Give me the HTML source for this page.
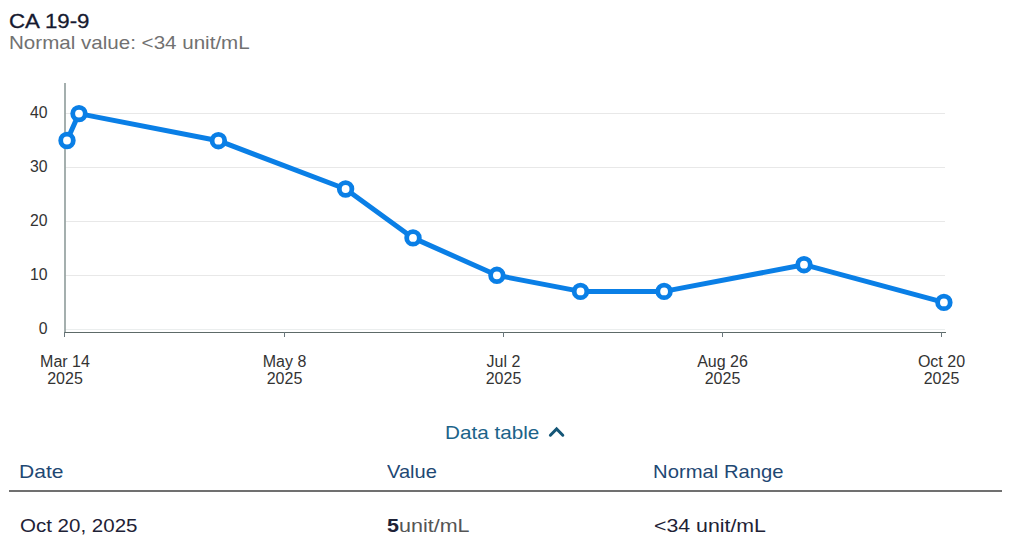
<!DOCTYPE html>
<html><head><meta charset="utf-8">
<style>
html,body{margin:0;padding:0;background:#fff;width:1018px;height:559px;overflow:hidden;}
body{position:relative;font-family:"Liberation Sans",sans-serif;-webkit-font-smoothing:antialiased;}
.t{position:absolute;white-space:nowrap;line-height:1;transform-origin:0 0;}
#title{left:9px;top:9.5px;font-size:21px;color:#161a30;transform:scaleX(1.06);-webkit-text-stroke:0.3px #161a30;}
#sub{left:9px;top:35px;font-size:17.7px;color:#717171;transform:scaleX(1.163);}
.yl{position:absolute;font-size:15.8px;color:#333;line-height:1;text-align:right;width:40px;left:7.5px;}
.xl{position:absolute;font-size:16px;color:#333;line-height:17px;text-align:center;width:100px;top:352.5px;}
#dt{left:445px;top:425px;font-size:17.7px;color:#1b6389;transform:scaleX(1.17);}
.th{top:464px;font-size:17.7px;color:#1e4873;}
.td{top:518px;font-size:17.7px;color:#1e2236;}
#rule{position:absolute;left:9px;top:490px;width:993px;height:2px;background:#707070;}
svg{position:absolute;left:0;top:0;}
</style></head><body>
<div class="t" id="title">CA 19-9</div>
<div class="t" id="sub">Normal value: &lt;34 unit/mL</div>

<svg width="1018" height="400" viewBox="0 0 1018 400">
  <g stroke="#e8e8e8" stroke-width="1">
    <line x1="65" y1="113.5" x2="945" y2="113.5"/>
    <line x1="65" y1="167.5" x2="945" y2="167.5"/>
    <line x1="65" y1="221.5" x2="945" y2="221.5"/>
    <line x1="65" y1="275.5" x2="945" y2="275.5"/>
    <line x1="65" y1="329.5" x2="945" y2="329.5" stroke="#ebeeee"/>
  </g>
  <line x1="65" y1="83" x2="65" y2="332" stroke="#95a1a0" stroke-width="1.7"/>
  <line x1="64" y1="332.5" x2="946" y2="332.5" stroke="#5d6a68" stroke-width="1"/>
  <g stroke="#6a777c" stroke-width="1">
    <line x1="64.5" y1="332" x2="64.5" y2="337"/>
    <line x1="284.5" y1="332" x2="284.5" y2="337"/>
    <line x1="503.5" y1="332" x2="503.5" y2="337"/>
    <line x1="722.5" y1="332" x2="722.5" y2="337"/>
    <line x1="941.5" y1="332" x2="941.5" y2="337"/>
  </g>
  <polyline fill="none" stroke="#0a7fe6" stroke-width="5" stroke-linejoin="round"
    points="67,140.5 79,113.6 218.4,140.7 345.6,189.0 413,237.9 496.9,275.3 580.5,291.4 664.1,291.4 804,264.7 943.9,302.4"/>
  <g fill="#fff" stroke="#0a7fe6" stroke-width="4.8">
    <circle cx="67" cy="140.5" r="6.3"/>
    <circle cx="79" cy="113.6" r="6.3"/>
    <circle cx="218.4" cy="140.7" r="6.3"/>
    <circle cx="345.6" cy="189.0" r="6.3"/>
    <circle cx="413" cy="237.9" r="6.3"/>
    <circle cx="496.9" cy="275.3" r="6.3"/>
    <circle cx="580.5" cy="291.4" r="6.3"/>
    <circle cx="664.1" cy="291.4" r="6.3"/>
    <circle cx="804" cy="264.7" r="6.3"/>
    <circle cx="943.9" cy="302.4" r="6.3"/>
  </g>
</svg>

<div class="yl" style="top:104.5px">40</div>
<div class="yl" style="top:158.5px">30</div>
<div class="yl" style="top:212.5px">20</div>
<div class="yl" style="top:266.5px">10</div>
<div class="yl" style="top:320.5px">0</div>

<div class="xl" style="left:15px">Mar 14<br>2025</div>
<div class="xl" style="left:234.5px">May 8<br>2025</div>
<div class="xl" style="left:453.5px">Jul 2<br>2025</div>
<div class="xl" style="left:672.5px">Aug 26<br>2025</div>
<div class="xl" style="left:891.5px">Oct 20<br>2025</div>

<div class="t" id="dt">Data table</div>
<svg width="20" height="14" style="left:547px;top:425px" viewBox="0 0 20 14">
  <polyline points="3.4,10.2 9.6,3.9 15.8,10.2" fill="none" stroke="#155677" stroke-width="3" stroke-linecap="round"/>
</svg>

<div class="t th" style="left:19px;transform:scaleX(1.19)">Date</div>
<div class="t th" style="left:387px;transform:scaleX(1.135)">Value</div>
<div class="t th" style="left:653px;transform:scaleX(1.145)">Normal Range</div>
<div id="rule"></div>
<div class="t td" style="left:20px;transform:scaleX(1.16)">Oct 20, 2025</div>
<div class="t td" style="left:387px;transform:scaleX(1.217)"><b style="font-weight:bold">5</b><span style="color:#555">unit/mL</span></div>
<div class="t td" style="left:654px;transform:scaleX(1.205)">&lt;34 unit/mL</div>
</body></html>
